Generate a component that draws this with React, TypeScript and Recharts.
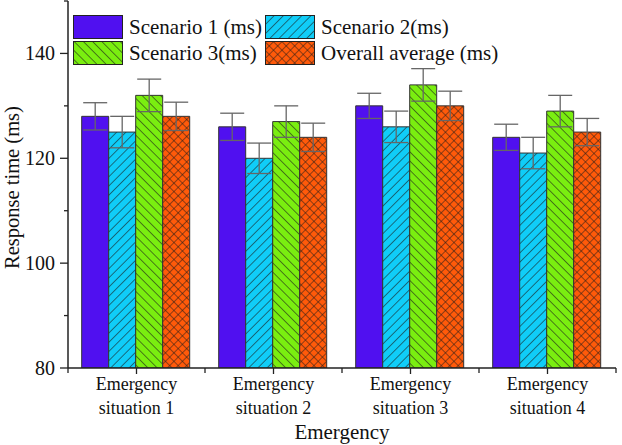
import { BarChart, Bar, XAxis, YAxis, ErrorBar } from "recharts";

const categories = ["Emergency situation 1", "Emergency situation 2", "Emergency situation 3", "Emergency situation 4"];
const scenario1 = [128, 126, 130, 124];
const scenario2 = [125, 120, 126, 121];
const scenario3 = [132, 127, 134, 129];
const overall = [128, 124, 130, 125];
const err1 = [2.6, 2.6, 2.4, 2.5];
const err2 = [3.0, 2.9, 3.0, 3.0];
const err3 = [3.1, 3.0, 3.1, 3.0];
const errAll = [2.7, 2.7, 2.8, 2.6];
const yMajor = [80, 100, 120, 140];
const yTicks = [80, 90, 100, 110, 120, 130, 140, 150];

const series = [
  { key: "s1", err: "e1", name: "Scenario 1 (ms)", fill: "#5010f0" },
  { key: "s2", err: "e2", name: "Scenario 2(ms)", fill: "url(#hatchCyan)" },
  { key: "s3", err: "e3", name: "Scenario 3(ms)", fill: "url(#hatchGreen)" },
  { key: "all", err: "eAll", name: "Overall average (ms)", fill: "url(#hatchOrange)" },
];

const data = categories.map((c, i) => ({
  name: c,
  s1: scenario1[i],
  s2: scenario2[i],
  s3: scenario3[i],
  all: overall[i],
  e1: err1[i],
  e2: err2[i],
  e3: err3[i],
  eAll: errAll[i],
}));

const FONT = "'Liberation Serif', 'Times New Roman', serif";
const INK = "#222";

function LeftTick(props: any) {
  const { x, y, payload } = props;
  const major = yMajor.includes(payload.value);
  return (
    <g>
      <line x1={x} x2={x - (major ? 8 : 4)} y1={y} y2={y} stroke={INK} strokeWidth={1.3} />
      {major && (
        <text x={x - 13} y={y + 7} textAnchor="end" fontFamily={FONT} fontSize={20} fill="#111">
          {payload.value}
        </text>
      )}
    </g>
  );
}

function RightTick(props: any) {
  const { x, y, payload } = props;
  const major = yMajor.includes(payload.value);
  return <line x1={x} x2={x - (major ? 7 : 4)} y1={y} y2={y} stroke={INK} strokeWidth={1.3} />;
}

function BottomTick(props: any) {
  const { x, y, payload, index } = props;
  const half = payload.offset || 0;
  const words = String(payload.value).split(" ");
  const first = words[0];
  const rest = words.slice(1).join(" ");
  return (
    <g>
      <line x1={x} x2={x} y1={y} y2={y + 6} stroke={INK} strokeWidth={1.3} />
      {half > 0 && <line x1={x - half} x2={x - half} y1={y} y2={y + 5} stroke={INK} strokeWidth={1.3} />}
      {half > 0 && index === categories.length - 1 && (
        <line x1={x + half} x2={x + half} y1={y} y2={y + 5} stroke={INK} strokeWidth={1.3} />
      )}
      <text x={x} y={y + 22} textAnchor="middle" fontFamily={FONT} fontSize={18} fill="#111">
        {first}
      </text>
      <text x={x} y={y + 46} textAnchor="middle" fontFamily={FONT} fontSize={18} fill="#111">
        {rest}
      </text>
    </g>
  );
}

function TopTick(props: any) {
  const { x, y, payload, index } = props;
  const half = payload.offset || 0;
  return (
    <g>
      <line x1={x} x2={x} y1={y} y2={y + 7} stroke={INK} strokeWidth={1.3} />
      {half > 0 && index > 0 && (
        <line x1={x - half} x2={x - half} y1={y} y2={y + 7} stroke={INK} strokeWidth={1.3} />
      )}
    </g>
  );
}

function LegendBox() {
  const swatch = (s: typeof series[number]) => (
    <div key={s.key} style={{ display: "flex", alignItems: "center", height: 26 }}>
      <svg width={50} height={24} style={{ display: "block" }}>
        <rect x={0.5} y={0.5} width={49} height={23} fill={s.fill} stroke={INK} strokeWidth={1} />
      </svg>
      <span style={{ marginLeft: 6, fontFamily: FONT, fontSize: 21, color: "#111", whiteSpace: "nowrap" }}>
        {s.name}
      </span>
    </div>
  );
  return (
    <div
      style={{
        position: "absolute",
        top: 14,
        left: 73,
        display: "grid",
        gridTemplateColumns: "192px auto",
      }}
    >
      {series.map(swatch)}
    </div>
  );
}

export default function App() {
  return (
    <div style={{ position: "absolute", left: 0, top: 0, width: 622, height: 445, background: "#fff" }}>
      <BarChart
        width={622}
        height={445}
        data={data}
        margin={{ top: 1, right: 6, left: 0, bottom: 0 }}
        barCategoryGap="10%"
        barGap={0}
      >
        <defs>
          <pattern id="hatchCyan" patternUnits="userSpaceOnUse" width={6.5} height={6.5} patternTransform="rotate(45)">
            <rect width={6.5} height={6.5} fill="#10cdf8" />
            <line x1={0} y1={0} x2={0} y2={6.5} stroke="#1a1a1a" strokeWidth={1.1} />
          </pattern>
          <pattern id="hatchGreen" patternUnits="userSpaceOnUse" width={6.5} height={6.5} patternTransform="rotate(-45)">
            <rect width={6.5} height={6.5} fill="#7aee10" />
            <line x1={0} y1={0} x2={0} y2={6.5} stroke="#1a1a1a" strokeWidth={1.1} />
          </pattern>
          <pattern id="hatchOrange" patternUnits="userSpaceOnUse" width={6} height={6} patternTransform="rotate(45)">
            <rect width={6} height={6} fill="#ff5a0a" />
            <line x1={0} y1={0} x2={0} y2={6} stroke="#1a1a1a" strokeWidth={1} />
            <line x1={0} y1={0} x2={6} y2={0} stroke="#1a1a1a" strokeWidth={1} />
          </pattern>
        </defs>
        <XAxis
          dataKey="name"
          height={77}
          interval={0}
          axisLine={{ stroke: INK, strokeWidth: 1.5 }}
          tickLine={false}
          tickSize={0}
          tickMargin={0}
          tick={<BottomTick />}
          label={{
            content: (p: any) => {
              const vb = p.viewBox;
              return (
                <text x={vb.x + vb.width / 2} y={vb.y + 71} textAnchor="middle" fontFamily={FONT} fontSize={21} fill="#111">
                  Emergency
                </text>
              );
            },
          }}
        />
        <XAxis
          xAxisId="top"
          dataKey="name"
          orientation="top"
          height={0}
          interval={0}
          axisLine={{ stroke: INK, strokeWidth: 1.5 }}
          tickLine={false}
          tickSize={0}
          tickMargin={0}
          tick={<TopTick />}
        />
        <YAxis
          width={68}
          domain={[80, 150]}
          ticks={yTicks}
          interval={0}
          allowDataOverflow
          axisLine={{ stroke: INK, strokeWidth: 1.5 }}
          tickLine={false}
          tickSize={0}
          tickMargin={0}
          tick={<LeftTick />}
          label={{
            content: (p: any) => {
              const vb = p.viewBox;
              const cx = vb.x + 12;
              const cy = vb.y + vb.height / 2 + 3;
              return (
                <text
                  x={cx}
                  y={cy}
                  transform={`rotate(-90 ${cx} ${cy})`}
                  textAnchor="middle"
                  dominantBaseline="central"
                  fontFamily={FONT}
                  fontSize={20.5}
                  fill="#111"
                >
                  Response time (ms)
                </text>
              );
            },
          }}
        />
        <YAxis
          yAxisId="right"
          orientation="right"
          width={0}
          domain={[80, 150]}
          ticks={yTicks}
          interval={0}
          axisLine={{ stroke: INK, strokeWidth: 1.5 }}
          tickLine={false}
          tickSize={0}
          tickMargin={0}
          tick={<RightTick />}
        />
        {series.map((s) => (
          <Bar
            key={s.key}
            dataKey={s.key}
            name={s.name}
            fill={s.fill}
            stroke="#333"
            strokeWidth={1}
            isAnimationActive={false}
          >
            <ErrorBar dataKey={s.err} width={12} stroke="#666" strokeWidth={1.3} direction="y" />
          </Bar>
        ))}
      </BarChart>
      <LegendBox />
    </div>
  );
}
